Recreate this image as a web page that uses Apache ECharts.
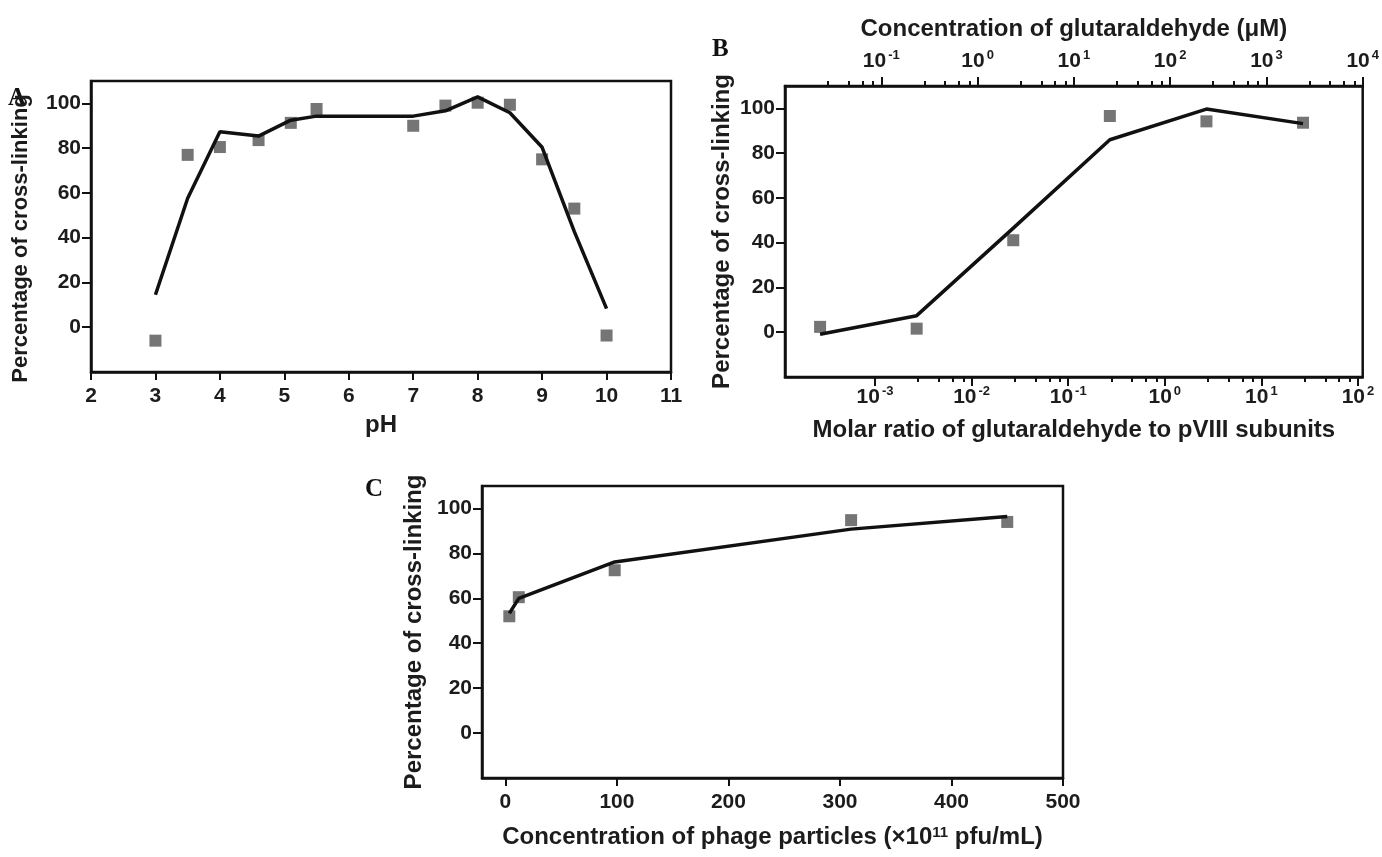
<!DOCTYPE html>
<html>
<head>
<meta charset="utf-8">
<title>Cross-linking</title>
<script src="https://cdn.jsdelivr.net/npm/echarts@6.0.0/dist/echarts.min.js"></script>
<style>
  html, body { margin: 0; padding: 0; background: #fff; }
  #chart { width: 1382px; height: 857px; }
</style>
</head>
<body>
<div id="chart"></div>
<script>
// panel A: pH
const phValues = [3, 3.5, 4, 4.6, 5.1, 5.5, 7, 7.5, 8, 8.5, 9, 9.5, 10];
const phMeasured = [-6, 77, 80.5, 83.6, 91.3, 97.5, 90, 99, 100.3, 99.4, 75, 53, -3.7];
const phFit = [14.5, 57.6, 87.3, 85.4, 92.5, 94.3, 94.3, 96.7, 102.9, 95.8, 80.4, 42.7, 8.3];
const phTicks = [2, 3, 4, 5, 6, 7, 8, 9, 10, 11];

// panel B: molar ratio (bottom) / concentration (top)
const molarRatio = [2.7e-4, 2.7e-3, 2.7e-2, 0.27, 2.7, 27];
const ratioMeasured = [2.4, 1.6, 41.1, 96.6, 94.2, 93.6];
const ratioFit = [-0.9, 7.4, 46.5, 86, 99.7, 93.2];
const ratioTicks = [1e-3, 1e-2, 1e-1, 1, 10, 100];
const concTicks = [1e-1, 1, 10, 100, 1000, 10000];
const minorSteps = [2.8, 4.6, 6.4, 8.2];

// panel C: phage particles
const phageConc = [3.5, 12, 98, 310, 450];
const phageMeasured = [52, 60.5, 72.5, 94.8, 94];
const phageFit = [53.3, 60, 76.2, 90.8, 96.4];
const phageTicks = [0, 100, 200, 300, 400, 500];

const percentTicks = [0, 20, 40, 60, 80, 100];

const FONT = 'Liberation Sans, Arial, sans-serif';
const INK = '#1c1c1c';

function pairs(xs, ys) {
  return xs.map((x, i) => [x, ys[i]]);
}

function minorOf(fromExp, toExp) {
  let out = [];
  for (let e = fromExp; e <= toExp; e++) {
    minorSteps.forEach(m => out.push(m * Math.pow(10, e)));
  }
  return out;
}

const sup = v => '{b|10}{s|' + Math.round(Math.log10(v)) + '}';
const supRich = {
  b: { fontSize: 21, fontWeight: 'bold', fontFamily: FONT, color: INK, lineHeight: 24 },
  s: { fontSize: 13, fontWeight: 'bold', fontFamily: FONT, color: INK, verticalAlign: 'top', padding: [0, 0, 0, 2] }
};

const tickLabel = { fontSize: 21, fontWeight: 'bold', fontFamily: FONT, color: INK };
const titleStyle = { fontSize: 24, fontWeight: 'bold', fontFamily: FONT, color: INK };
const line = { show: true, onZero: false, lineStyle: { color: '#111', width: 2.5 } };

function valueX(grid, min, max, ticks, name, gap) {
  return {
    type: 'value', gridIndex: grid, min: min, max: max,
    name: name, nameLocation: 'middle', nameGap: gap, nameTextStyle: titleStyle,
    axisLine: line,
    axisTick: { show: true, customValues: ticks, length: 8, lineStyle: { color: '#111', width: 2 } },
    axisLabel: Object.assign({ customValues: ticks, margin: 14 }, tickLabel),
    splitLine: { show: false }
  };
}

function percentY(grid, gap, nameStyle) {
  return {
    type: 'value', gridIndex: grid, min: -20, max: 110,
    name: 'Percentage of cross-linking', nameLocation: 'middle', nameRotate: 90, nameGap: gap,
    nameTextStyle: nameStyle || titleStyle,
    axisLine: line,
    axisTick: { show: true, customValues: percentTicks, length: 9, lineStyle: { color: '#111', width: 2 } },
    axisLabel: Object.assign({ customValues: percentTicks, margin: 10 }, tickLabel),
    splitLine: { show: false }
  };
}

function logX(grid, pos, min, max, major, minor, name, gap, margin) {
  return [{
    type: 'log', logBase: 10, gridIndex: grid, position: pos, min: min, max: max,
    name: name, nameLocation: 'middle', nameGap: gap, nameTextStyle: titleStyle,
    axisLine: line,
    axisTick: { show: true, customValues: major, length: 9, lineStyle: { color: '#111', width: 2 } },
    axisLabel: { customValues: major, margin: margin, formatter: sup, rich: supRich },
    splitLine: { show: false }
  }, {
    type: 'log', logBase: 10, gridIndex: grid, position: pos, min: min, max: max,
    axisLine: { show: false, onZero: false },
    axisTick: { show: true, customValues: minor, length: 5, lineStyle: { color: '#111', width: 2 } },
    axisLabel: { show: false },
    splitLine: { show: false }
  }];
}

const boxStyle = { show: true, borderColor: '#111', borderWidth: 2.5, backgroundColor: 'transparent' };

const chart = echarts.init(document.getElementById('chart'), null, { renderer: 'canvas' });

const markStyle = { color: '#525252' };
const fitStyle = { color: '#111', width: 3.5 };

// panel A title sits a little lower so the panel letter stays clear
const titleA = Object.assign({}, titleStyle, { fontSize: 22, padding: [0, 24, 0, 0] });

chart.setOption({
  animation: false,
  backgroundColor: '#fff',
  textStyle: { fontFamily: FONT },
  grid: [
    Object.assign({ left: 91, top: 81, width: 580, height: 291 }, boxStyle),
    Object.assign({ left: 785, top: 86, width: 581, height: 291 }, boxStyle),
    Object.assign({ left: 482, top: 486, width: 581, height: 292 }, boxStyle)
  ],
  xAxis: [
    valueX(0, 2, 11, phTicks, 'pH', 41),
    ...logX(1, 'bottom', 1.17e-4, 112, ratioTicks, minorOf(-3, 1),
      'Molar ratio of glutaraldehyde to pVIII subunits', 41, 8),
    ...logX(1, 'top', 0.01, 10000, concTicks, minorOf(-2, 3),
      'Concentration of glutaraldehyde (\u03bcM)', 45, 13),
    Object.assign(valueX(2, -21, 500, phageTicks, '{t|Concentration of phage particles (\u00d710}{s|11}{t| pfu/mL)}', 47), {
      nameTextStyle: {
        rich: {
          t: titleStyle,
          s: { fontSize: 15, fontWeight: 'bold', fontFamily: FONT, color: INK, verticalAlign: 'top' }
        }
      }
    })
  ],
  yAxis: [percentY(0, 59, titleA), percentY(1, 51), percentY(2, 56)],
  graphic: [
    { type: 'text', left: 8, top: 86, style: { text: 'A', font: 'bold 25px "Liberation Serif", serif', fill: '#111' } },
    { type: 'text', left: 712, top: 37, style: { text: 'B', font: 'bold 25px "Liberation Serif", serif', fill: '#111' } },
    { type: 'text', left: 365, top: 477, style: { text: 'C', font: 'bold 25px "Liberation Serif", serif', fill: '#111' } }
  ],
  series: [
    { type: 'scatter', xAxisIndex: 0, yAxisIndex: 0, symbol: 'rect', symbolSize: 12, itemStyle: markStyle, data: pairs(phValues, phMeasured), z: 2 },
    { type: 'line', xAxisIndex: 0, yAxisIndex: 0, showSymbol: false, lineStyle: fitStyle, data: pairs(phValues, phFit), z: 3 },
    { type: 'scatter', xAxisIndex: 1, yAxisIndex: 1, symbol: 'rect', symbolSize: 12, itemStyle: markStyle, data: pairs(molarRatio, ratioMeasured), z: 2 },
    { type: 'line', xAxisIndex: 1, yAxisIndex: 1, showSymbol: false, lineStyle: fitStyle, data: pairs(molarRatio, ratioFit), z: 3 },
    { type: 'scatter', xAxisIndex: 5, yAxisIndex: 2, symbol: 'rect', symbolSize: 12, itemStyle: markStyle, data: pairs(phageConc, phageMeasured), z: 2 },
    { type: 'line', xAxisIndex: 5, yAxisIndex: 2, showSymbol: false, lineStyle: fitStyle, data: pairs(phageConc, phageFit), z: 3 }
  ]
});
</script>
</body>
</html>
